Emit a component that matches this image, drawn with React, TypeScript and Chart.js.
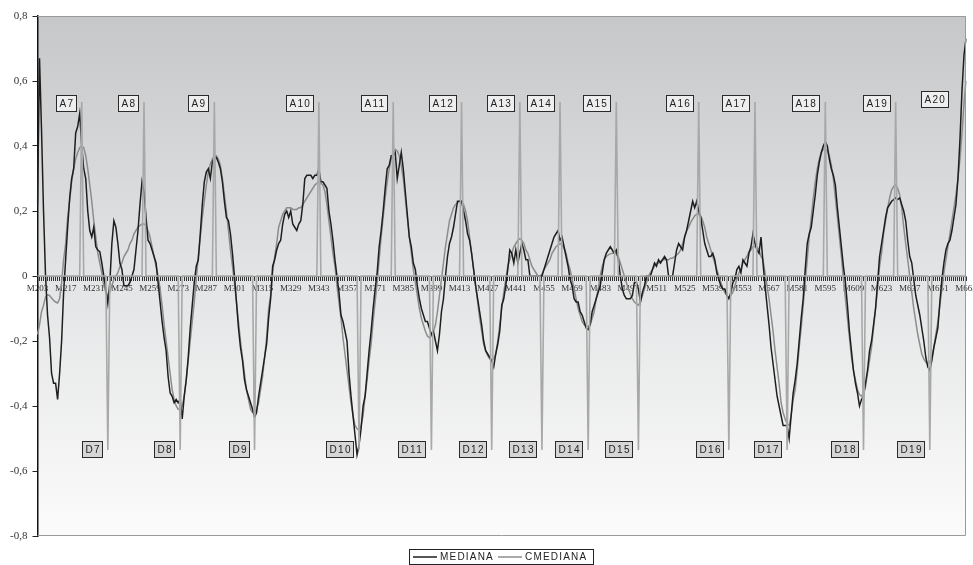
import React, { useEffect, useRef } from "react";
import { Chart, registerables } from "chart.js";

Chart.register(...registerables);

// ---- data ----
const MEDIANA = [
  0.22, 0.67, 0.45, 0.2, 0.0, -0.12, -0.19, -0.3, -0.33, -0.33,
  -0.38, -0.3, -0.2, -0.05, 0.05, 0.15, 0.24, 0.3, 0.33, 0.44,
  0.46, 0.5, 0.4, 0.33, 0.3, 0.2, 0.14, 0.12, 0.15, 0.09,
  0.08, 0.075, 0.04, 0.0, -0.04, -0.085, -0.02, 0.1, 0.17, 0.15,
  0.1, 0.04, 0.02, -0.03, -0.03, -0.03, -0.02, 0.0, 0.02, 0.08,
  0.14, 0.22, 0.29, 0.26, 0.18, 0.11, 0.1, 0.08, 0.06, 0.04,
  -0.02, -0.08, -0.14, -0.19, -0.23, -0.31, -0.36, -0.37, -0.39, -0.38,
  -0.39, -0.38, -0.44, -0.37, -0.32, -0.25, -0.16, -0.09, -0.02, 0.03,
  0.05, 0.13, 0.22, 0.29, 0.32, 0.33, 0.3, 0.35, 0.365, 0.365,
  0.35, 0.33, 0.29, 0.23, 0.18, 0.17, 0.13, 0.07, 0.0, -0.08,
  -0.16, -0.22, -0.26, -0.32, -0.35, -0.37, -0.39, -0.41, -0.435, -0.42,
  -0.37, -0.33, -0.29, -0.25, -0.21, -0.13, -0.07, 0.03, 0.05, 0.08,
  0.1, 0.11, 0.16, 0.19, 0.2, 0.18, 0.2, 0.16, 0.15, 0.14,
  0.16, 0.17, 0.22, 0.3, 0.31, 0.31, 0.31, 0.3, 0.31, 0.31,
  0.33, 0.29, 0.29, 0.28, 0.27, 0.2, 0.16, 0.11, 0.05, 0.0,
  -0.05, -0.12, -0.14, -0.17, -0.2, -0.3, -0.37, -0.43, -0.49, -0.55,
  -0.52, -0.47, -0.4, -0.37, -0.3, -0.23, -0.17, -0.1, -0.04, 0.01,
  0.09, 0.14, 0.2, 0.27, 0.33, 0.34, 0.37, 0.37, 0.38, 0.3,
  0.34, 0.38, 0.33, 0.26, 0.19, 0.12, 0.09, 0.04, 0.02, -0.03,
  -0.07, -0.1, -0.12, -0.14, -0.14, -0.16, -0.18, -0.17, -0.2, -0.23,
  -0.18, -0.11, -0.07, 0.0, 0.06, 0.1, 0.12, 0.15, 0.19, 0.23,
  0.23, 0.23, 0.2, 0.17, 0.13, 0.11, 0.07, 0.02, -0.03, -0.07,
  -0.11, -0.15, -0.2, -0.23, -0.24, -0.25, -0.26, -0.28, -0.24, -0.21,
  -0.17, -0.09, -0.07, -0.03, 0.02, 0.08, 0.07, 0.04, 0.08, 0.04,
  0.07, 0.1, 0.08, 0.05, 0.05, 0.0, 0.0, 0.0, 0.0, 0.0,
  0.0, 0.0, 0.02, 0.04, 0.06, 0.08, 0.1, 0.12, 0.13, 0.14,
  0.11, 0.12, 0.09, 0.06, 0.03, -0.01, -0.03, -0.07, -0.08, -0.08,
  -0.11, -0.12, -0.14, -0.16, -0.165, -0.15, -0.11, -0.09, -0.07, -0.05,
  -0.03, 0.01, 0.05, 0.07, 0.08, 0.09, 0.08, 0.07, 0.08, 0.05,
  0.0, -0.04, -0.06, -0.07, -0.07, -0.07, -0.06, -0.02, -0.02, -0.04,
  -0.08, -0.05, -0.03, 0.0, 0.0, 0.0, 0.02, 0.04, 0.03, 0.05,
  0.04, 0.05, 0.06, 0.05, 0.0, 0.0, 0.0, 0.04, 0.08, 0.1,
  0.09, 0.08, 0.12, 0.14, 0.17, 0.2, 0.23, 0.21, 0.23, 0.2,
  0.18, 0.14, 0.1, 0.08, 0.06, 0.06, 0.07, 0.05, 0.01, -0.01,
  -0.03, -0.04, -0.04, -0.06, -0.07, -0.05, -0.02, -0.01, 0.02, 0.03,
  0.01, 0.05, 0.04, 0.03, 0.07, 0.09, 0.13, 0.1, 0.08, 0.07,
  0.12, 0.04, -0.03, -0.09, -0.15, -0.22, -0.27, -0.32, -0.37, -0.4,
  -0.43, -0.46, -0.46, -0.46, -0.5, -0.43, -0.36, -0.32, -0.27, -0.2,
  -0.13, -0.07, 0.02, 0.1, 0.13, 0.15, 0.2, 0.25, 0.31, 0.35,
  0.38, 0.4, 0.413, 0.4, 0.36, 0.33, 0.31, 0.28, 0.21, 0.15,
  0.09, 0.03, -0.02, -0.09, -0.17, -0.23, -0.29, -0.33, -0.36, -0.4,
  -0.38, -0.37, -0.33, -0.29, -0.23, -0.2, -0.15, -0.1, -0.02, 0.06,
  0.1, 0.14, 0.18, 0.21, 0.22, 0.23, 0.235, 0.24, 0.235, 0.24,
  0.22, 0.2, 0.17, 0.11, 0.06, 0.04, -0.01, -0.06, -0.09, -0.12,
  -0.16, -0.2, -0.25, -0.28, -0.29, -0.26, -0.22, -0.19, -0.16, -0.08,
  -0.01, 0.04, 0.08, 0.1, 0.11, 0.14, 0.18, 0.22, 0.3, 0.42,
  0.57, 0.68, 0.73,
];

const CMEDIANA = [
  -0.18, -0.15, -0.11, -0.09, -0.065, -0.058, -0.06, -0.068, -0.075, -0.08,
  -0.083, -0.07, -0.02, 0.05, 0.1, 0.18, 0.23, 0.29, 0.33, 0.36,
  0.38, 0.395, 0.4, 0.395, 0.37, 0.33, 0.28, 0.23, 0.17, 0.12,
  0.07, 0.04, 0.01, -0.03, -0.05, -0.06, -0.05, -0.03, -0.01, 0.0,
  0.01, 0.03, 0.04, 0.06, 0.07, 0.08, 0.1, 0.11, 0.13, 0.14,
  0.15, 0.155, 0.16, 0.16, 0.155, 0.14, 0.12, 0.09, 0.06, 0.03,
  0.0, -0.04, -0.09, -0.15, -0.2, -0.25, -0.3, -0.35, -0.38, -0.4,
  -0.41, -0.41, -0.4, -0.37, -0.32, -0.26, -0.2, -0.14, -0.08, -0.01,
  0.06, 0.12, 0.18, 0.23, 0.28, 0.32, 0.345, 0.36, 0.37, 0.37,
  0.36, 0.34, 0.3, 0.25, 0.2, 0.14, 0.08, 0.03, -0.02, -0.08,
  -0.14, -0.2, -0.25, -0.3, -0.35, -0.38, -0.41, -0.42, -0.42, -0.41,
  -0.39, -0.35, -0.31, -0.25, -0.19, -0.1, -0.06, 0.01, 0.06, 0.1,
  0.15, 0.17, 0.19, 0.2, 0.21, 0.21, 0.21, 0.205, 0.205, 0.205,
  0.21, 0.21, 0.22, 0.23, 0.24, 0.25, 0.26, 0.27, 0.28, 0.285,
  0.29, 0.285, 0.28, 0.26, 0.22, 0.17, 0.12, 0.07, 0.03, -0.03,
  -0.08, -0.13, -0.19, -0.24, -0.29, -0.34, -0.39, -0.43, -0.46, -0.47,
  -0.475, -0.46, -0.43, -0.37, -0.32, -0.26, -0.21, -0.14, -0.08, -0.02,
  0.05, 0.12, 0.18, 0.24, 0.29, 0.33, 0.36, 0.38, 0.39, 0.385,
  0.37, 0.34, 0.3, 0.24, 0.18, 0.12, 0.07, 0.02, -0.02, -0.06,
  -0.1, -0.13, -0.15, -0.17, -0.185, -0.19, -0.185, -0.17, -0.15, -0.11,
  -0.06, -0.01, 0.04, 0.09, 0.13, 0.17, 0.19, 0.21, 0.22, 0.225,
  0.23, 0.23, 0.22, 0.2, 0.17, 0.12, 0.07, 0.02, -0.03, -0.08,
  -0.13, -0.17, -0.21, -0.23, -0.245, -0.255, -0.26, -0.255, -0.24, -0.2,
  -0.15, -0.1, -0.05, -0.01, 0.03, 0.05, 0.07, 0.09, 0.1, 0.11,
  0.115, 0.11, 0.1, 0.08, 0.07, 0.05, 0.03, 0.02, 0.01, 0.0,
  0.0, 0.005, 0.02, 0.03, 0.04, 0.05, 0.07, 0.08, 0.09, 0.095,
  0.1, 0.095, 0.085, 0.07, 0.04, 0.02, -0.01, -0.04, -0.07, -0.1,
  -0.12, -0.14, -0.15, -0.155, -0.155, -0.15, -0.13, -0.11, -0.07, -0.04,
  0.0, 0.03, 0.05, 0.06, 0.065, 0.068, 0.07, 0.07, 0.068, 0.06,
  0.04, 0.02, 0.0, -0.02, -0.04, -0.055, -0.07, -0.08, -0.085, -0.09,
  -0.08, -0.06, -0.04, -0.02, 0.0, 0.01, 0.02, 0.03, 0.04, 0.04,
  0.045, 0.05, 0.05, 0.05, 0.05, 0.055, 0.055, 0.06, 0.065, 0.07,
  0.08, 0.1, 0.12, 0.14, 0.15, 0.165, 0.175, 0.185, 0.19, 0.19,
  0.185, 0.17, 0.15, 0.12, 0.1, 0.08, 0.06, 0.04, 0.02, 0.0,
  -0.02, -0.04, -0.05, -0.06, -0.065, -0.06, -0.05, -0.03, -0.01, 0.01,
  0.02, 0.04, 0.05, 0.06, 0.075, 0.08, 0.09, 0.09, 0.09, 0.08,
  0.06, 0.05, 0.01, -0.03, -0.07, -0.12, -0.17, -0.23, -0.28, -0.33,
  -0.39, -0.42, -0.44, -0.455, -0.46, -0.43, -0.38, -0.35, -0.29, -0.22,
  -0.16, -0.09, -0.02, 0.05, 0.12, 0.18, 0.24, 0.29, 0.33, 0.36,
  0.38, 0.39, 0.39, 0.385, 0.37, 0.34, 0.3, 0.24, 0.18, 0.12,
  0.06, -0.01, -0.07, -0.13, -0.19, -0.25, -0.29, -0.32, -0.35, -0.365,
  -0.37, -0.36, -0.34, -0.3, -0.26, -0.22, -0.16, -0.1, -0.04, 0.03,
  0.07, 0.13, 0.17, 0.21, 0.24, 0.265, 0.275, 0.28, 0.27, 0.25,
  0.21, 0.15, 0.1, 0.05, 0.0, -0.05, -0.1, -0.14, -0.18, -0.21,
  -0.24, -0.255, -0.265, -0.27, -0.265, -0.25, -0.22, -0.18, -0.14, -0.09,
  -0.04, 0.01, 0.05, 0.09, 0.13, 0.17, 0.21, 0.25, 0.3, 0.36,
  0.44, 0.53, 0.6,
];

const firstPeriod = 203;
const categories = MEDIANA.map((_, i) => `M${firstPeriod + i}`);
const labelEvery = 14;

const peakNames = ["A7", "A8", "A9", "A10", "A11", "A12", "A13", "A14", "A15", "A16", "A17", "A18", "A19", "A20"];
const peakCats = ["M225", "M256", "M291", "M343", "M380", "M414", "M443", "M463", "M491", "M532", "M560", "M595", "M630", "M659"];
const peakWithoutSpike = ["A20"];
const troughNames = ["D7", "D8", "D9", "D10", "D11", "D12", "D13", "D14", "D15", "D16", "D17", "D18", "D19"];
const troughCats = ["M238", "M274", "M311", "M363", "M399", "M429", "M454", "M477", "M502", "M547", "M576", "M614", "M647"];
const spikeHeight = 0.535;
const labelLevel = 0.533;

const spikeSeries = categories.map((c) => {
  const p = peakCats.indexOf(c);
  if (p >= 0 && !peakWithoutSpike.includes(peakNames[p])) return spikeHeight;
  if (troughCats.includes(c)) return -spikeHeight;
  return 0;
});

const SERIF = '"Liberation Serif", "Times New Roman", serif';
const SANS = '"Liberation Sans", Arial, sans-serif';

const decorPlugin = {
  id: "decor",
  beforeDraw(chart: any) {
    const { ctx, chartArea: a } = chart;
    ctx.save();
    ctx.fillStyle = "#ffffff";
    ctx.fillRect(0, 0, chart.width, chart.height);
    const g = ctx.createLinearGradient(0, a.top, 0, a.bottom);
    g.addColorStop(0, "#c6c7c9");
    g.addColorStop(0.5, "#e3e4e5");
    g.addColorStop(1, "#fbfbfb");
    ctx.fillStyle = g;
    ctx.fillRect(a.left, a.top, a.right - a.left, a.bottom - a.top);
    ctx.restore();
  },
  afterDraw(chart: any) {
    const { ctx, chartArea: a } = chart;
    const xs = chart.scales.x;
    const ys = chart.scales.y;
    ctx.save();
    // plot frame (top, right, bottom)
    ctx.strokeStyle = "#9a9a9a";
    ctx.lineWidth = 1;
    ctx.beginPath();
    ctx.moveTo(a.left, a.top + 0.5);
    ctx.lineTo(a.right - 0.5, a.top + 0.5);
    ctx.lineTo(a.right - 0.5, a.bottom - 0.5);
    ctx.lineTo(a.left, a.bottom - 0.5);
    ctx.stroke();

    const box = (text: string, xRight: number, yCenter: number, fill: string) => {
      ctx.font = `10px ${SANS}`;
      (ctx as any).letterSpacing = "1.3px";
      const w = Math.round(ctx.measureText(text).width + 5);
      const h = 16;
      const x = Math.round(xRight - w) + 0.5;
      const y = Math.round(yCenter - h / 2) + 0.5;
      ctx.fillStyle = fill;
      ctx.fillRect(x, y, w, h);
      ctx.strokeStyle = "#2a2a2a";
      ctx.lineWidth = 1;
      ctx.strokeRect(x, y, w, h);
      ctx.fillStyle = "#222";
      ctx.textAlign = "left";
      ctx.textBaseline = "middle";
      ctx.fillText(text, x + 3, y + h / 2 + 0.5);
    };
    peakNames.forEach((n, k) => {
      const px = xs.getPixelForValue(categories.indexOf(peakCats[k]));
      const lvl = peakWithoutSpike.includes(n) ? labelLevel + 0.012 : labelLevel;
      box(n, px - 6, ys.getPixelForValue(lvl), "#eeeeee");
    });
    troughNames.forEach((n, k) => {
      const px = xs.getPixelForValue(categories.indexOf(troughCats[k]));
      box(n, px - 6, ys.getPixelForValue(-labelLevel), "#d6d6d6");
    });

    // legend
    (ctx as any).letterSpacing = "1.2px";
    ctx.font = `10px ${SANS}`;
    const lx = 409.5, ly = 549.5, lw = 184, lh = 15;
    ctx.fillStyle = "#ffffff";
    ctx.fillRect(lx, ly, lw, lh);
    ctx.strokeStyle = "#222";
    ctx.lineWidth = 1;
    ctx.strokeRect(lx, ly, lw, lh);
    const cy = ly + lh / 2;
    ctx.lineWidth = 1.5;
    ctx.strokeStyle = "#1e1e1e";
    ctx.beginPath(); ctx.moveTo(413, cy); ctx.lineTo(437, cy); ctx.stroke();
    ctx.strokeStyle = "#8c8c8c";
    ctx.beginPath(); ctx.moveTo(498, cy); ctx.lineTo(522, cy); ctx.stroke();
    ctx.fillStyle = "#222";
    ctx.textAlign = "left";
    ctx.textBaseline = "middle";
    ctx.fillText("MEDIANA", 440, cy + 0.5);
    ctx.fillText("CMEDIANA", 525, cy + 0.5);
    ctx.restore();
  },
};

export default function App() {
  const ref = useRef<HTMLCanvasElement | null>(null);
  useEffect(() => {
    if (!ref.current) return;
    const chart = new Chart(ref.current, {
      type: "line",
      data: {
        labels: categories,
        datasets: [
          {
            label: "marks",
            data: spikeSeries,
            borderColor: "#a8a8a8",
            borderWidth: 1.6,
            pointRadius: 0,
            tension: 0,
            order: 0,
          },
          {
            label: "MEDIANA",
            data: MEDIANA,
            borderColor: "#1e1e1e",
            borderWidth: 1.5,
            pointRadius: 0,
            tension: 0,
            order: 1,
          },
          {
            label: "CMEDIANA",
            data: CMEDIANA,
            borderColor: "#8c8c8c",
            borderWidth: 1.5,
            pointRadius: 0,
            tension: 0,
            order: 2,
          },
        ],
      },
      options: {
        responsive: false,
        animation: false,
        devicePixelRatio: 1,
        layout: { padding: { left: 0, top: 16, right: 7, bottom: 29 } },
        plugins: { legend: { display: false }, tooltip: { enabled: false } },
        scales: {
          x: {
            type: "category",
            position: { y: 0 } as any,
            offset: false,
            afterFit: (s: any) => {
              s.paddingLeft = 0;
              s.paddingRight = 0;
            },
            grid: {
              display: true,
              drawOnChartArea: false,
              drawTicks: true,
              tickLength: 4,
              color: "#333",
              lineWidth: 1,
              offset: false,
            },
            border: { display: true, color: "#8a8a8a", width: 1 },
            ticks: {
              autoSkip: false,
              maxRotation: 0,
              minRotation: 0,
              padding: 3,
              color: "#333",
              font: { family: SERIF, size: 9 },
              callback: (_v: any, i: number) => (i % labelEvery === 0 ? categories[i] : ""),
            },
          },
          y: {
            min: -0.8,
            max: 0.8,
            afterFit: (s: any) => {
              s.width = 37.5;
              s.paddingTop = 0;
              s.paddingBottom = 0;
            },
            grid: {
              display: true,
              drawOnChartArea: false,
              drawTicks: true,
              tickLength: 5,
              color: "#222",
            },
            border: { display: true, color: "#111", width: 1.5 },
            ticks: {
              stepSize: 0.2,
              padding: 5,
              color: "#333",
              font: { family: SERIF, size: 11 },
              callback: (v: any) => {
                const n = Number(v);
                if (Math.abs(n) < 1e-9) return "0";
                return n.toFixed(1).replace(".", ",");
              },
            },
          },
        },
      },
      plugins: [decorPlugin],
    });
    return () => chart.destroy();
  }, []);
  return (
    <div style={{ position: "fixed", left: 0, top: 0, width: 973, height: 565, background: "#fff" }}>
      <canvas ref={ref} width={973} height={565} style={{ display: "block" }} />
    </div>
  );
}
